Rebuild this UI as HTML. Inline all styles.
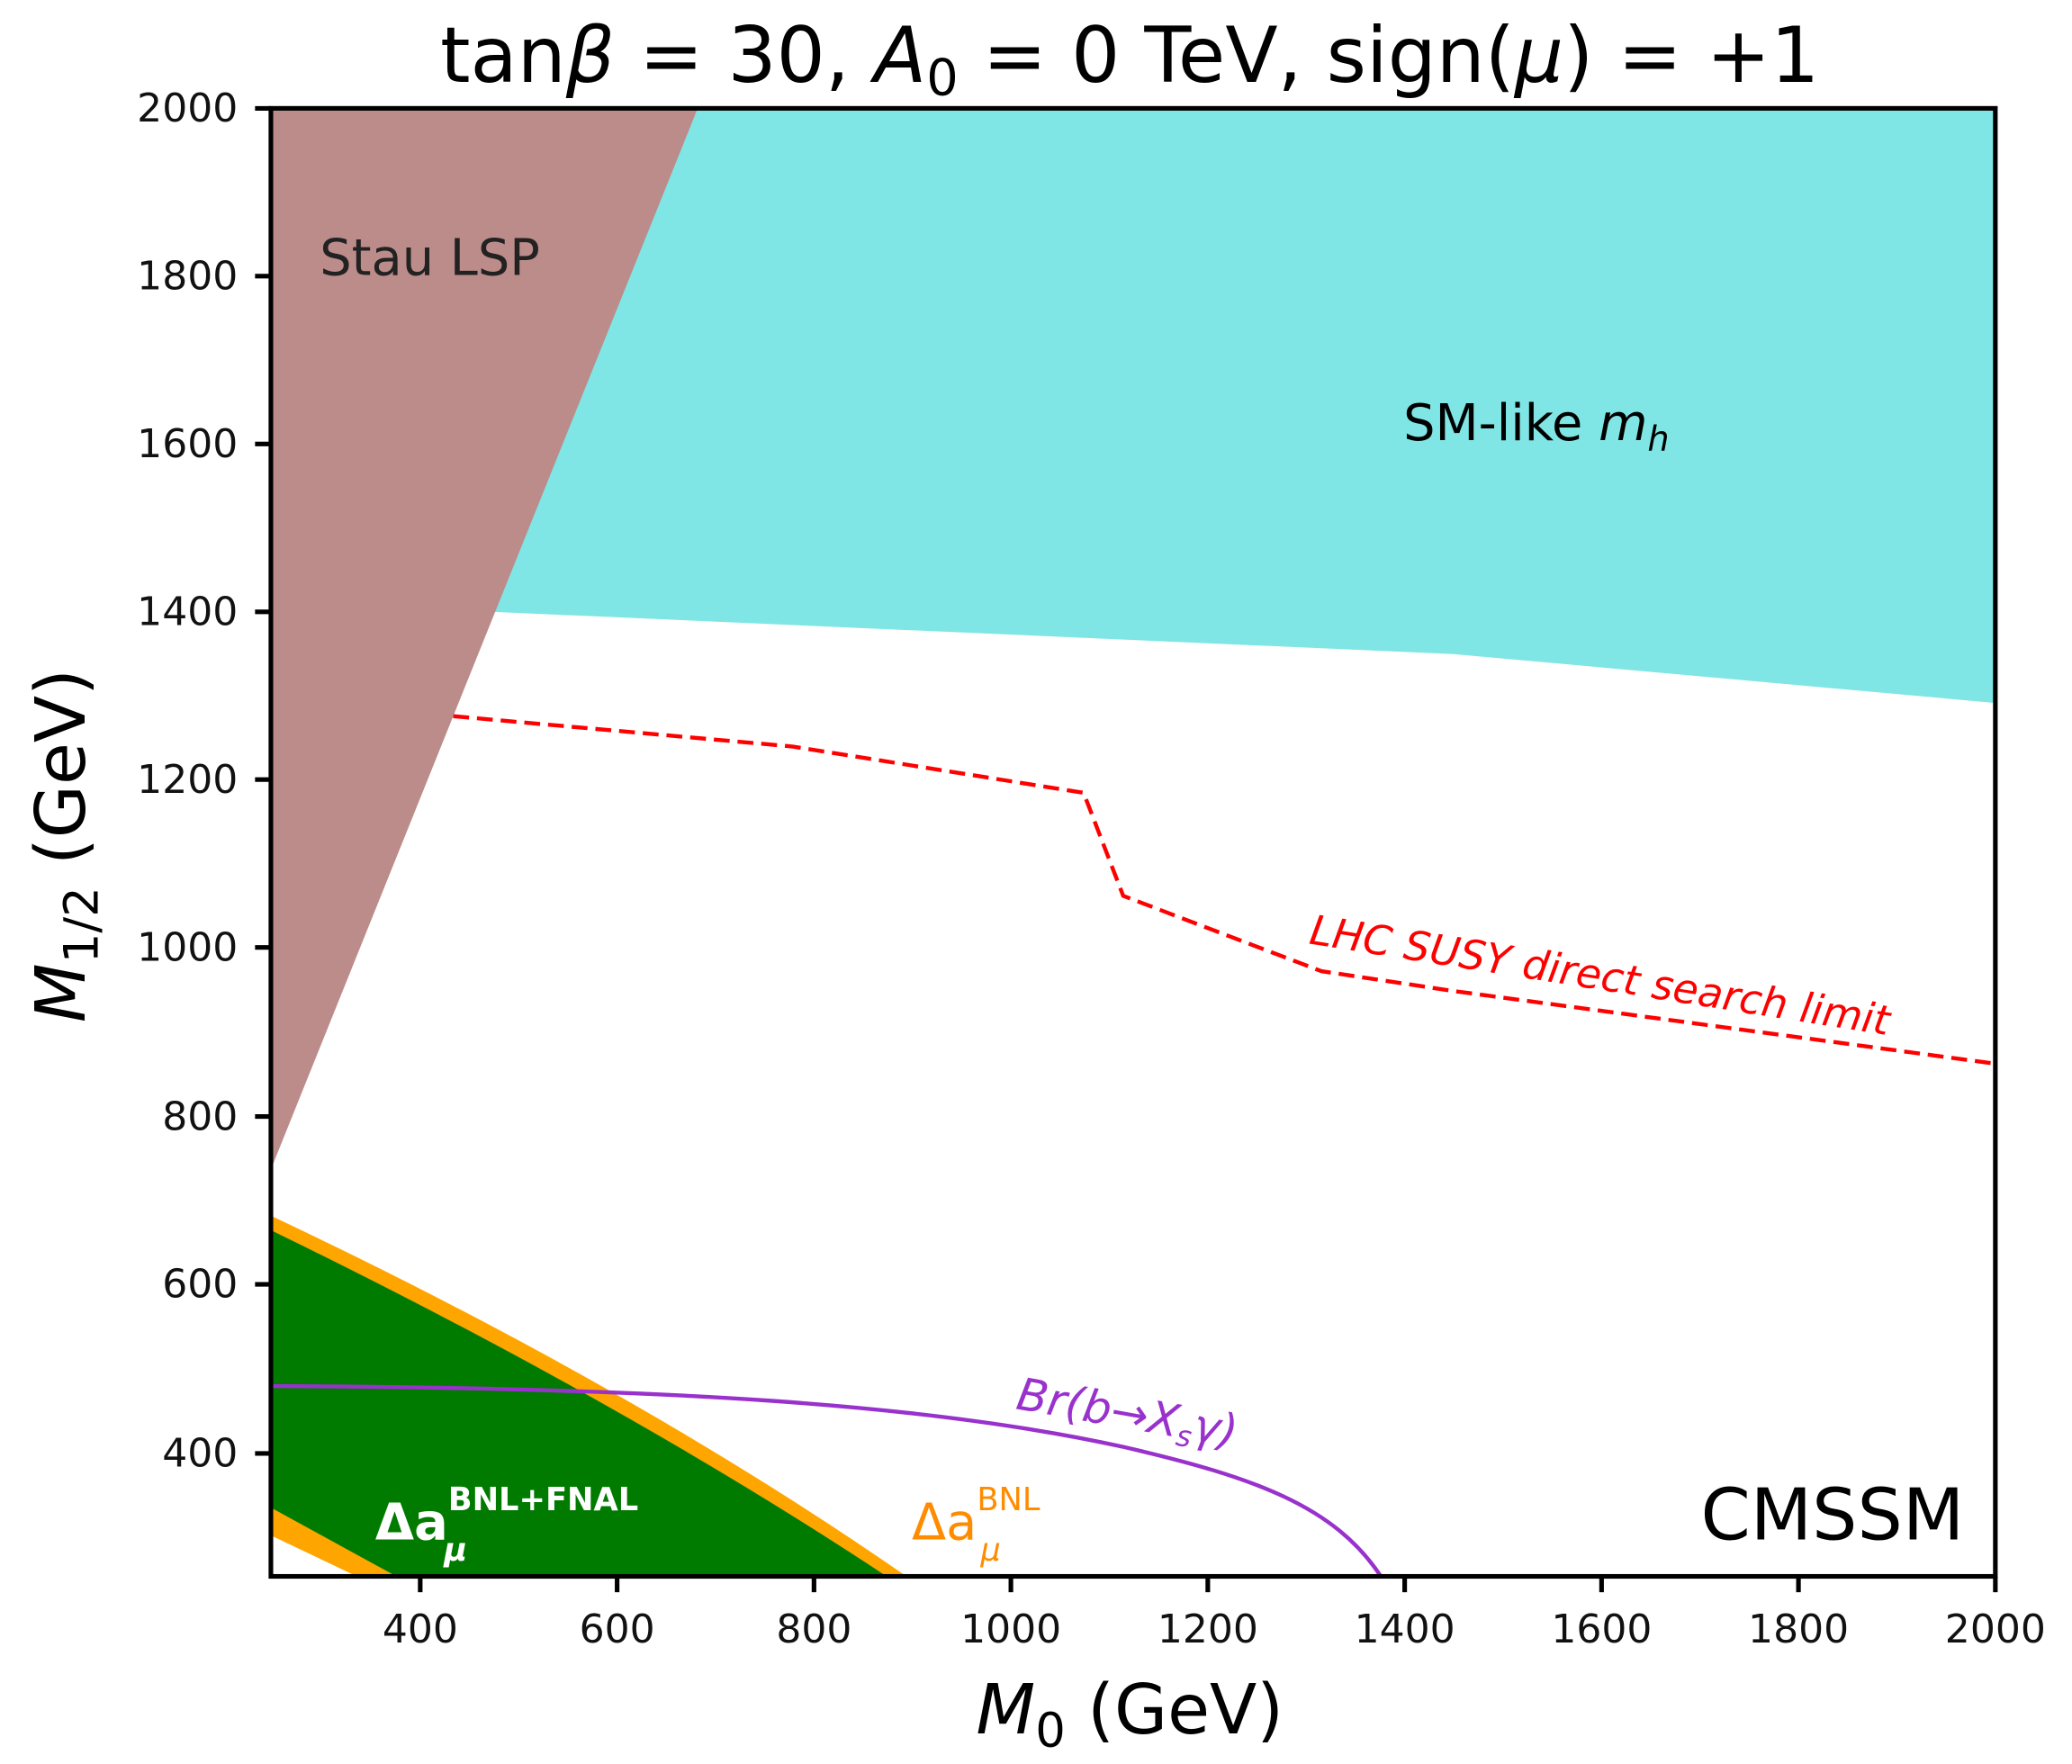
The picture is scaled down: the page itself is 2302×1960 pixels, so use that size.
<!DOCTYPE html>
<html><head><meta charset="utf-8"><style>html,body{margin:0;padding:0;background:#fff}svg{display:block}</style></head>
<body>
<svg width="2302" height="1960" viewBox="0 0 1568 1335" preserveAspectRatio="none" xmlns="http://www.w3.org/2000/svg" font-family="'DejaVu Sans','Liberation Sans',sans-serif">
<polygon points="528,82 1510,82 1510,532 1100,495 372,463" fill="#7fe5e5"/>
<polygon points="205,82 528,82 205,885" fill="#bc8c8a"/>
<path d="M205,920 Q480,1050 686,1193 L205,1193 Z" fill="#ffa500"/>
<path d="M205,931 Q470,1060 671,1193 L300,1193 L205,1141 Z" fill="#007b00"/>
<polygon points="205,1162 270,1193 205,1193" fill="#fff"/>
<polyline points="343,542 600,565 820,600 850,678 1000,735 1100,750 1510,805" fill="none" stroke="#ff0000" stroke-width="3" stroke-dasharray="12,6"/>
<path d="M205,1049 C500,1050 700,1062 850,1095 C950,1118 1010,1140 1045,1193" fill="none" stroke="#9932cc" stroke-width="3"/>
<rect x="205" y="82" width="1305" height="1111" fill="none" stroke="#000" stroke-width="3.5"/>
<g stroke="#000" stroke-width="3.5">
<line x1="318" y1="1193" x2="318" y2="1205"/><line x1="467" y1="1193" x2="467" y2="1205"/><line x1="616" y1="1193" x2="616" y2="1205"/><line x1="765" y1="1193" x2="765" y2="1205"/><line x1="914" y1="1193" x2="914" y2="1205"/><line x1="1063" y1="1193" x2="1063" y2="1205"/><line x1="1212" y1="1193" x2="1212" y2="1205"/><line x1="1361" y1="1193" x2="1361" y2="1205"/><line x1="1510" y1="1193" x2="1510" y2="1205"/>
<line x1="193" y1="82" x2="205" y2="82"/><line x1="193" y1="209" x2="205" y2="209"/><line x1="193" y1="336" x2="205" y2="336"/><line x1="193" y1="463" x2="205" y2="463"/><line x1="193" y1="590" x2="205" y2="590"/><line x1="193" y1="717" x2="205" y2="717"/><line x1="193" y1="845" x2="205" y2="845"/><line x1="193" y1="972" x2="205" y2="972"/><line x1="193" y1="1100" x2="205" y2="1100"/>
</g>
<g font-size="30" text-anchor="middle" fill="#111">
<text x="318" y="1243">400</text><text x="467" y="1243">600</text><text x="616" y="1243">800</text><text x="765" y="1243">1000</text><text x="914" y="1243">1200</text><text x="1063" y="1243">1400</text><text x="1212" y="1243">1600</text><text x="1361" y="1243">1800</text><text x="1510" y="1243">2000</text>
</g>
<g font-size="30" text-anchor="end" fill="#111">
<text x="180" y="92">2000</text><text x="180" y="219">1800</text><text x="180" y="346">1600</text><text x="180" y="473">1400</text><text x="180" y="600">1200</text><text x="180" y="727">1000</text><text x="180" y="855">800</text><text x="180" y="982">600</text><text x="180" y="1110">400</text>
</g>
<text x="855" y="62" font-size="58" text-anchor="middle">tan<tspan font-style="italic">β</tspan> = 30, <tspan font-style="italic">A</tspan><tspan font-size="38" dy="10">0</tspan><tspan dy="-10"> = 0 TeV, sign(</tspan><tspan font-style="italic">μ</tspan>) = +1</text>
<text x="855" y="1312" font-size="52" text-anchor="middle"><tspan font-style="italic">M</tspan><tspan font-size="36" dy="10">0</tspan><tspan dy="-10"> (GeV)</tspan></text>
<text transform="translate(64,640) rotate(-90)" font-size="52" text-anchor="middle"><tspan font-style="italic">M</tspan><tspan font-size="36" dy="10">1/2</tspan><tspan dy="-10"> (GeV)</tspan></text>
<text x="242" y="208" font-size="38" fill="#222">Stau LSP</text>
<text x="1062" y="333" font-size="38" fill="#000">SM-like <tspan font-style="italic">m</tspan><tspan font-size="26" font-style="italic" dy="8">h</tspan></text>
<text x="1287" y="1165" font-size="54" fill="#000">CMSSM</text>
<text transform="translate(990,714) rotate(9)" font-size="31" fill="#ff0000" font-style="italic">LHC SUSY direct search limit</text>
<text transform="translate(768,1066) rotate(10)" font-size="34" fill="#9932cc" font-style="italic">Br(b→X<tspan font-size="22" dy="6">s</tspan><tspan dy="-6">γ)</tspan></text>
<text x="284" y="1165" font-size="38" fill="#fff" font-weight="bold">Δa<tspan font-size="24" dy="-22">BNL+FNAL</tspan><tspan x="336" dy="38" font-size="24" font-style="italic">μ</tspan></text>
<text x="690" y="1165" font-size="38" fill="#ff8c00">Δa<tspan font-size="24" dy="-22">BNL</tspan><tspan x="742" dy="38" font-size="24" font-style="italic">μ</tspan></text>
</svg>
</body></html>
